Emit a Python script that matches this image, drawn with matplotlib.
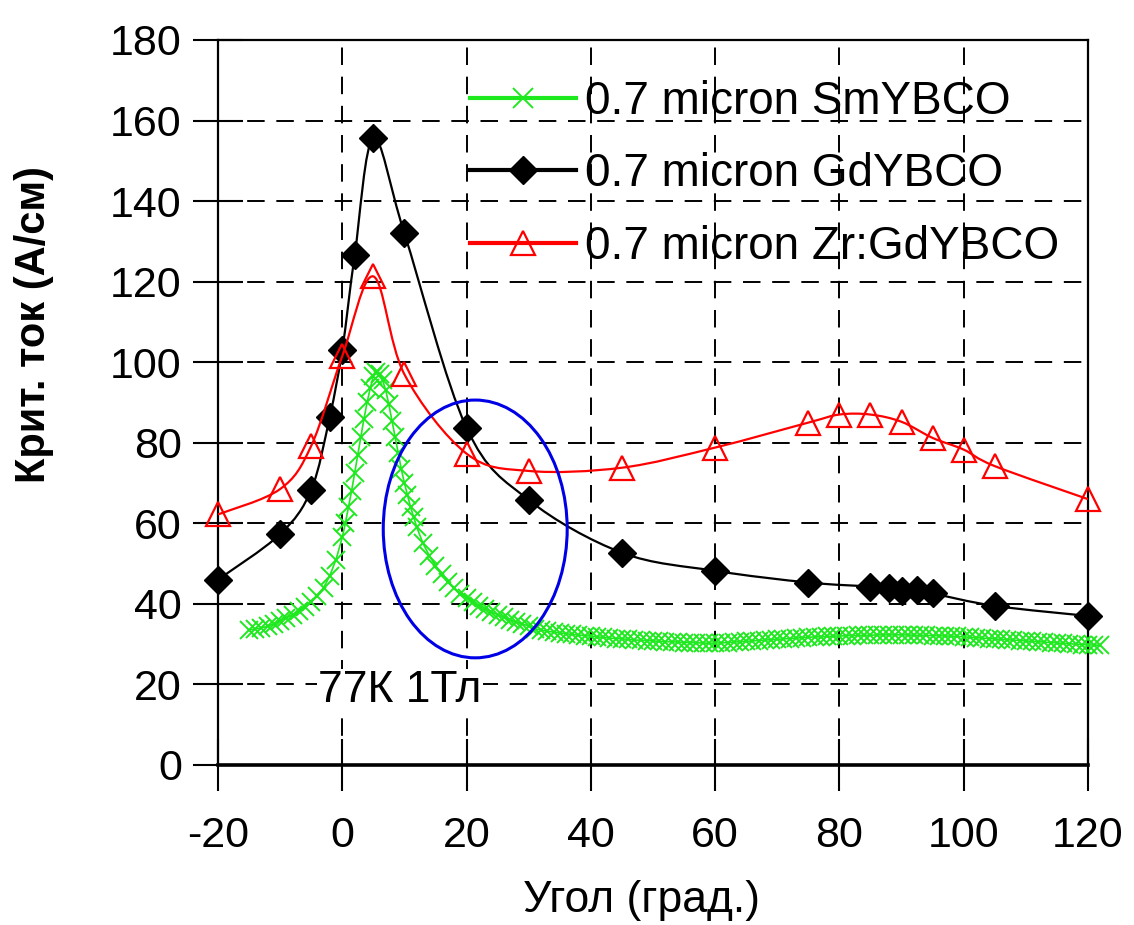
import matplotlib
matplotlib.use("Agg")
import matplotlib.pyplot as plt
from matplotlib.lines import Line2D
from matplotlib.path import Path
from matplotlib.patches import PathPatch, Ellipse
import numpy as np

plt.rcParams['font.family'] = ['Liberation Sans', 'DejaVu Sans']

# Angle (deg) vs critical current (A/cm)
gd_angle = [-20, -10, -5, -2, 0, 2, 5, 10, 20, 30, 45, 60, 75, 85, 88, 90, 92.5, 95, 105, 120]
gd_current = [46, 57.3, 68.3, 86.5, 103, 126.5, 155.6, 132, 83.7, 65.8, 52.7, 48.2,
              45.3, 44.3, 43.9, 43.3, 43.4, 42.6, 39.5, 37]

zr_angle = [-20, -10, -5, 0, 5, 10, 20, 30, 45, 60, 75, 80, 85, 90, 95, 100, 105, 120]
zr_current = [62.2, 68.5, 79.2, 101.5, 121.3, 97, 77.3, 73, 73.8, 78.8, 85, 87, 87,
              85.2, 81.2, 78.3, 74.2, 66]

sm_angle = ([-15, -14, -13, -12, -11, -10, -9, -8, -7, -6, -5, -4, -3, -2, -1,
             0, 0.5, 1, 1.5, 2, 2.5, 3, 3.5, 4, 4.5, 5, 5.5, 6, 6.5, 7, 7.5, 8, 8.5,
             9, 9.5, 10, 10.5, 11, 11.5, 12]
            + list(range(13, 123)))
sm_current = [33.5, 33.8, 34.0, 34.5, 35.0, 35.8, 36.5, 37.3, 38.2, 39.3, 40.5, 42.0, 44.0, 47.0, 51.0,
              56.5, 60.0, 64.0, 68.0, 72.5, 77.0, 81.5, 86.0, 90.0, 93.5, 96.5, 97.5, 97.0, 95.5,
              93.0, 89.5, 85.5, 81.5, 77.5, 73.5, 70.0, 67.0, 64.0, 61.5, 59.0,
              55.0, 52.0, 49.5, 47.5, 45.5, 44.0, 42.5, 41.5, 40.5, 39.5,
              38.8, 38.0, 37.3, 36.7, 36.0, 35.5, 35.0, 34.5,
              33.8, 33.5, 33.2, 33.0, 32.8, 32.6, 32.4, 32.3, 32.1, 32.0,
              31.8, 31.7, 31.5, 31.4, 31.3, 31.2, 31.0, 31.0, 30.9, 30.8,
              30.7, 30.6, 30.6, 30.5, 30.4, 30.4, 30.3, 30.3, 30.2, 30.3,
              30.3, 30.4, 30.5, 30.6, 30.7, 30.8, 30.9, 31.0, 31.1, 31.2,
              31.3, 31.4, 31.5, 31.6, 31.7, 31.8, 31.8, 31.9, 32.0, 32.0,
              32.1, 32.1, 32.2, 32.2, 32.2, 32.3, 32.3, 32.3, 32.3, 32.3,
              32.3, 32.2, 32.2, 32.2, 32.1, 32.1, 32.0, 32.0, 31.9, 31.8,
              31.7, 31.6, 31.5, 31.4, 31.3, 31.2, 31.1, 31.0, 30.9, 30.8,
              30.7, 30.6, 30.5, 30.4, 30.3, 30.2, 30.1, 30.0, 29.9, 29.8,
              29.8, 29.7]

labels = ['0.7 micron SmYBCO', '0.7 micron GdYBCO', '0.7 micron Zr:GdYBCO']
x_ticks = [-20, 0, 20, 40, 60, 80, 100, 120]
y_ticks = [0, 20, 40, 60, 80, 100, 120, 140, 160, 180]

GREEN = '#1ee81e'
RED = '#ff0000'


def smooth_path(x, y):
    # Excel-like smoothed line (Catmull-Rom as cubic Bezier)
    pts = np.column_stack([x, y]).astype(float)
    ext = np.vstack([pts[0], pts, pts[-1]])
    verts = [pts[0]]
    codes = [Path.MOVETO]
    for i in range(len(pts) - 1):
        p0, p1, p2, p3 = ext[i], ext[i + 1], ext[i + 2], ext[i + 3]
        verts += [p1 + (p2 - p0) / 6, p2 - (p3 - p1) / 6, p2]
        codes += [Path.CURVE4] * 3
    return Path(verts, codes)


fig = plt.figure(figsize=(11.34, 9.25), dpi=100)
ax = fig.add_axes([0.1922, 0.173, 0.7672, 0.7838])
ax.set_xlim(-20, 120)
ax.set_ylim(0, 180)

for xv in x_ticks[1:-1]:
    ax.axvline(xv, color='black', lw=1.4, ls=(0, (9, 6)), zorder=1)
for yv in y_ticks[1:-1]:
    ax.axhline(yv, color='black', lw=1.4, ls=(0, (9, 6)), zorder=1)

# green series
ax.plot(sm_angle, sm_current, color=GREEN, lw=1.2, marker='x', ms=13, mew=1.4,
        zorder=3, clip_on=False)

# black series
ax.add_patch(PathPatch(smooth_path(gd_angle, gd_current), fc='none', ec='black', lw=1.6, zorder=4))
ax.plot(gd_angle, gd_current, ls='none', marker='D', ms=14, color='black', zorder=5, clip_on=False)

# red series
ax.add_patch(PathPatch(smooth_path(zr_angle, zr_current), fc='none', ec=RED, lw=1.6, zorder=6))
ax.plot(zr_angle, zr_current, ls='none', marker='^', ms=17, mfc='none', mec=RED, mew=1.6,
        zorder=7, clip_on=False)

ax.add_patch(Ellipse((21.4, 58.6), 29.6, 64, fc='none', ec='#0000e6', lw=2.2, zorder=8))

ax.text(9.3, 18.4, '77К 1Тл', fontsize=32, ha='center', va='center', zorder=9,
        bbox=dict(fc='white', ec='none', pad=1))

for side in ['left', 'right', 'top']:
    ax.spines[side].set_linewidth(1.6)
ax.spines['bottom'].set_linewidth(2.6)

ax.set_xticks(x_ticks)
ax.set_yticks(y_ticks)
ax.set_xticklabels([str(v) for v in x_ticks])
ax.tick_params(axis='y', direction='inout', length=36, width=1.5, labelsize=31, pad=8)
ax.tick_params(axis='x', direction='inout', length=38, width=1.5, labelsize=31, pad=18)

handles = [
    Line2D([], [], color=GREEN, lw=3, marker='x', ms=15, mew=1.4),
    Line2D([], [], color='black', lw=3, marker='D', ms=14),
    Line2D([], [], color=RED, lw=3, marker='^', ms=17, mfc='none', mec=RED, mew=1.6),
]
ax.legend(handles, labels, loc='upper left', bbox_to_anchor=(0.29, 0.945), frameon=False,
          fontsize=33, handlelength=2.3, handletextpad=0.2, labelspacing=0.62,
          borderpad=0, borderaxespad=0)

fig.text(0.030, 0.649, 'Крит. ток (А/см)', rotation=90, fontsize=30, fontweight='bold',
         ha='center', va='center')
fig.text(0.566, 0.027, 'Угол (град.)', fontsize=32, ha='center', va='center')

fig.savefig('out.png', dpi=100, facecolor='white')
